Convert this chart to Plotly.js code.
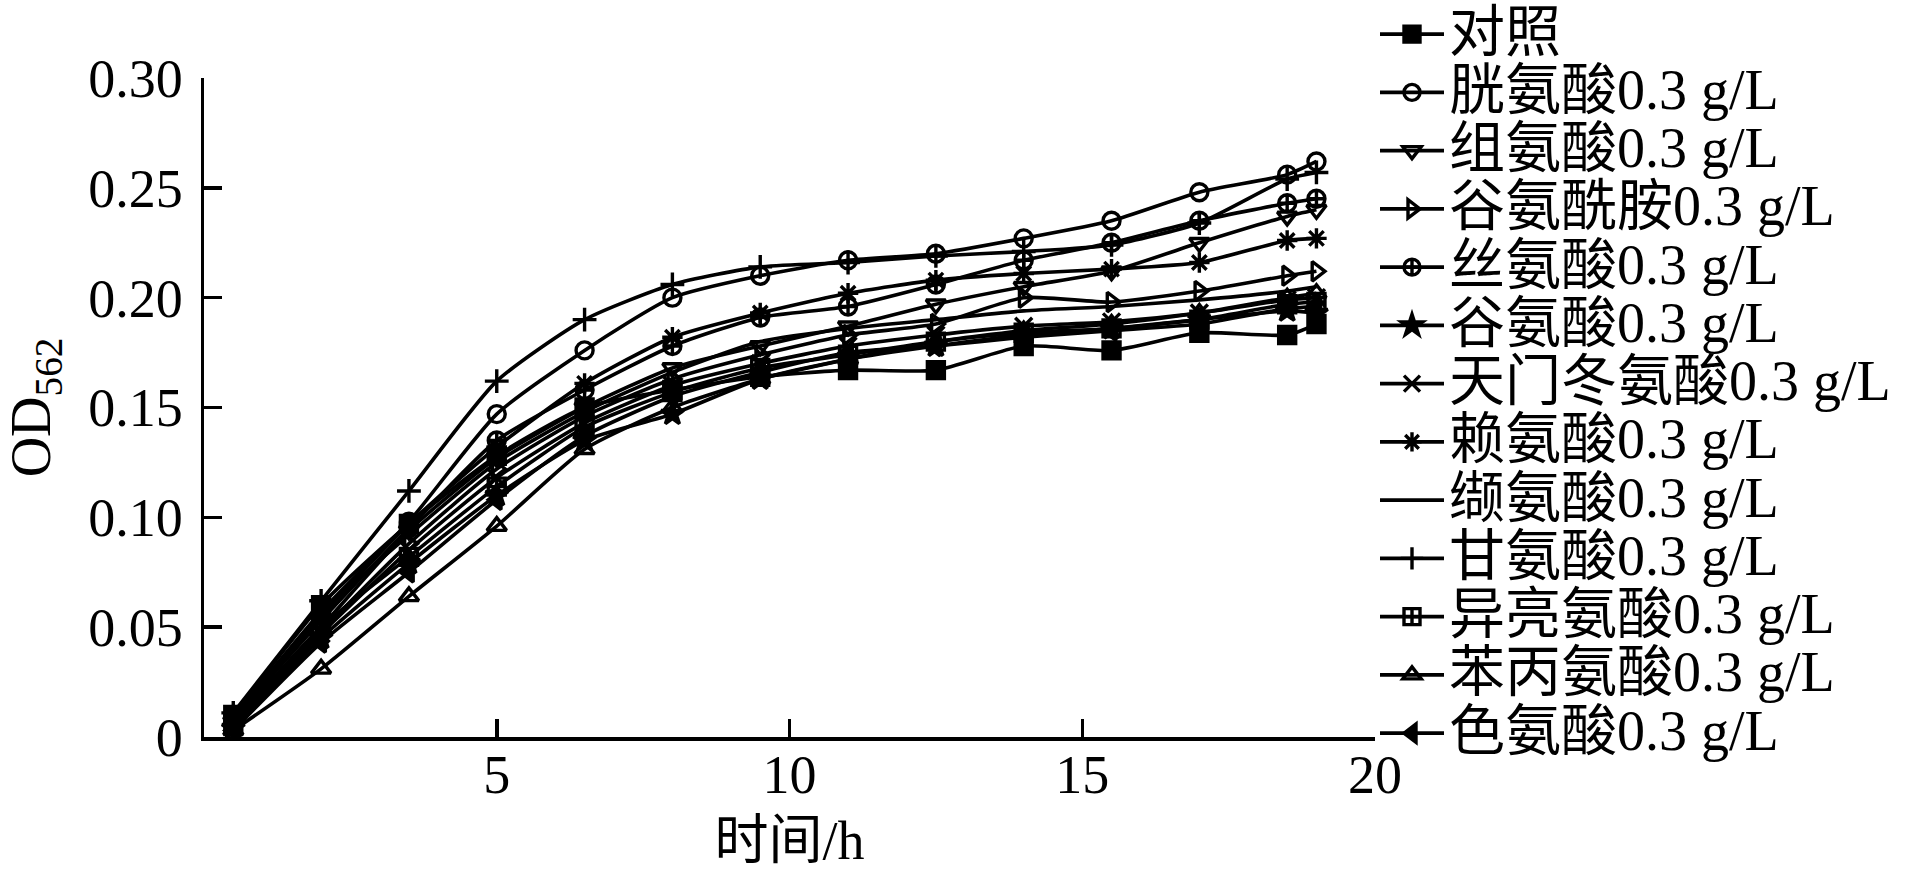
<!DOCTYPE html>
<html>
<head>
<meta charset="utf-8">
<script src="https://cdn.plot.ly/plotly-3.0.1.min.js"></script>
<style>
  html, body { margin: 0; padding: 0; background: #fff; }
  #graph { width: 1915px; height: 871px; }
</style>
</head>
<body>
<div id="graph"></div>
<script>
// sampling times (h)
var hours = [0.5, 2, 3.5, 5, 6.5, 8, 9.5, 11, 12.5, 14, 15.5, 17, 18.5, 19];

// OD562 readings, one array per treatment
var control    = [0.010, 0.060, 0.097, 0.128, 0.150, 0.158, 0.164, 0.167, 0.167, 0.178, 0.176, 0.184, 0.183, 0.188];
var cystine    = [0.009, 0.057, 0.098, 0.147, 0.176, 0.200, 0.210, 0.217, 0.220, 0.227, 0.235, 0.248, 0.256, 0.262];
var histidine  = [0.007, 0.050, 0.094, 0.127, 0.150, 0.168, 0.178, 0.187, 0.197, 0.205, 0.212, 0.225, 0.237, 0.240];
var glutamine  = [0.006, 0.048, 0.088, 0.122, 0.146, 0.163, 0.174, 0.183, 0.188, 0.200, 0.198, 0.203, 0.210, 0.212];
var serine     = [0.008, 0.053, 0.095, 0.135, 0.158, 0.178, 0.191, 0.196, 0.206, 0.217, 0.225, 0.235, 0.243, 0.245];
var glutamate  = [0.004, 0.045, 0.079, 0.110, 0.135, 0.147, 0.163, 0.172, 0.178, 0.183, 0.186, 0.190, 0.194, 0.193];
var aspartate  = [0.005, 0.047, 0.085, 0.118, 0.143, 0.160, 0.170, 0.178, 0.183, 0.187, 0.189, 0.193, 0.199, 0.200];
var lysine     = [0.010, 0.055, 0.097, 0.132, 0.161, 0.182, 0.193, 0.202, 0.208, 0.211, 0.213, 0.216, 0.226, 0.227];
var valine     = [0.009, 0.056, 0.092, 0.125, 0.148, 0.166, 0.180, 0.186, 0.190, 0.194, 0.196, 0.199, 0.203, 0.205];
var glycine    = [0.011, 0.062, 0.112, 0.162, 0.190, 0.206, 0.214, 0.216, 0.219, 0.221, 0.224, 0.234, 0.254, 0.257];
var isoleucine = [0.006, 0.050, 0.082, 0.114, 0.141, 0.157, 0.168, 0.174, 0.180, 0.184, 0.186, 0.190, 0.197, 0.198];
var phenylala  = [0.003, 0.031, 0.064, 0.096, 0.131, 0.150, 0.163, 0.172, 0.180, 0.185, 0.188, 0.193, 0.200, 0.202];
var tryptophan = [0.003, 0.043, 0.075, 0.108, 0.137, 0.155, 0.166, 0.175, 0.178, 0.182, 0.185, 0.188, 0.195, 0.196];

var names = ['对照', '胱氨酸0.3 g/L', '组氨酸0.3 g/L', '谷氨酰胺0.3 g/L', '丝氨酸0.3 g/L',
             '谷氨酸0.3 g/L', '天门冬氨酸0.3 g/L', '赖氨酸0.3 g/L', '缬氨酸0.3 g/L',
             '甘氨酸0.3 g/L', '异亮氨酸0.3 g/L', '苯丙氨酸0.3 g/L', '色氨酸0.3 g/L'];
var series = [control, cystine, histidine, glutamine, serine, glutamate, aspartate,
              lysine, valine, glycine, isoleucine, phenylala, tryptophan];
var symbols = ['square', 'circle-open', 'triangle-down-open', 'triangle-right-open',
               'circle-cross-open', 'star', 'x-thin-open', 'asterisk-open', null,
               'cross-thin-open', 'square-cross-open', 'triangle-up-open', 'triangle-left'];

var serif = '"Liberation Serif", "Noto Sans CJK SC", serif';

var data = [];
for (var i = 0; i < series.length; i++) {
  var tr = {
    x: hours,
    y: series[i],
    // legend rows are spaced by legend.font.size, the text itself is drawn larger
    name: '<span style="font-size:56px">' + names[i] + '</span>',
    type: 'scatter',
    mode: symbols[i] ? 'lines+markers' : 'lines',
    line: { color: 'black', width: 3.6, shape: 'spline', smoothing: 0.6 }
  };
  if (symbols[i]) {
    tr.marker = {
      symbol: symbols[i],
      size: 17,
      color: 'black',
      line: { color: 'black', width: 3.4 }
    };
  }
  data.push(tr);
}

var layout = {
  width: 1915,
  height: 871,
  margin: { l: 204, r: 540, t: 78, b: 134, autoexpand: false },
  paper_bgcolor: 'white',
  plot_bgcolor: 'white',
  font: { family: serif, color: 'black', size: 54 },
  showlegend: true,
  legend: {
    x: 1.0,
    xanchor: 'left',
    yref: 'container',
    y: 1,
    yanchor: 'top',
    maxheight: 871,
    font: { family: serif, size: 42.5, color: 'black' },
    itemwidth: 64,
    tracegroupgap: 0,
    bgcolor: 'rgba(0,0,0,0)'
  },
  xaxis: {
    range: [0, 20],
    tickvals: [5, 10, 15, 20],
    ticktext: ['5', '10', '15', '20'],
    ticks: 'inside',
    ticklen: 18,
    tickwidth: 3.5,
    tickcolor: 'black',
    ticklabelstandoff: -12,
    showline: true,
    linewidth: 3.5,
    linecolor: 'black',
    showgrid: false,
    zeroline: false,
    tickfont: { family: serif, size: 54 },
    title: { text: '时间/h', font: { family: serif, size: 54 }, standoff: 34 }
  },
  yaxis: {
    range: [0, 0.30],
    tickvals: [0, 0.05, 0.10, 0.15, 0.20, 0.25, 0.30],
    ticktext: ['0', '0.05', '0.10', '0.15', '0.20', '0.25', '0.30'],
    ticks: 'inside',
    ticklen: 18,
    tickwidth: 3.5,
    tickcolor: 'black',
    ticklabelstandoff: 7,
    showline: true,
    linewidth: 3.5,
    linecolor: 'black',
    showgrid: false,
    zeroline: false,
    tickfont: { family: serif, size: 54 },
    title: { text: 'OD<sub>562</sub>', font: { family: serif, size: 56 }, standoff: 30 }
  }
};

Plotly.newPlot('graph', data, layout, { displayModeBar: false, staticPlot: true });
</script>
</body>
</html>
